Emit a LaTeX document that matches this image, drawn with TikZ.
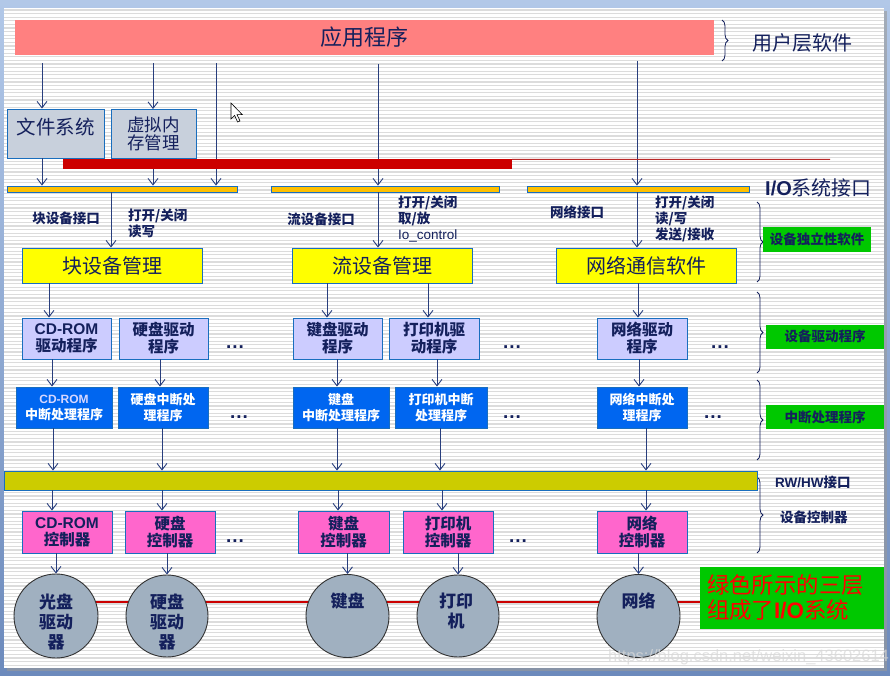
\documentclass[tikz,border=0pt]{standalone}
\usepackage{fontspec}
\setmainfont{Noto Sans CJK SC}
\newfontfamily\lat{Liberation Sans}
\usetikzlibrary{arrows.meta,decorations.pathreplacing,calc}
\definecolor{navy}{RGB}{20,32,92}
\definecolor{arrc}{RGB}{40,62,125}
\definecolor{bord}{RGB}{25,110,190}
\definecolor{winA}{RGB}{178,200,232}
\definecolor{winB}{RGB}{108,138,188}
\definecolor{stripe}{RGB}{220,220,220}
\definecolor{appc}{RGB}{255,128,128}
\definecolor{redc}{RGB}{204,0,0}
\definecolor{thinred}{RGB}{185,40,40}
\definecolor{orng}{RGB}{255,192,0}
\definecolor{yel}{RGB}{255,255,0}
\definecolor{lav}{RGB}{204,204,255}
\definecolor{lavtxt}{RGB}{215,215,255}
\definecolor{intb}{RGB}{0,102,240}
\definecolor{olive}{RGB}{204,204,0}
\definecolor{pinkc}{RGB}{255,102,204}
\definecolor{circc}{RGB}{160,176,192}
\definecolor{grn}{RGB}{0,200,0}
\definecolor{gboxc}{RGB}{200,208,220}
\pgfdeclarelayer{bg}
\pgfsetlayers{bg,main}
\begin{document}
\begin{tikzpicture}[x=1pt,y=-1pt,
  bx/.style={draw=bord, line width=0.9pt, inner sep=0pt, text=navy},
  sz/.style 2 args={minimum width=#1pt, minimum height=#2pt},
  arr/.style={draw=arrc, line width=0.9pt, -{Straight Barb[length=6.5pt,width=10pt,line width=0.9pt]}},
  brc/.style={draw=navy, line width=0.8pt, decorate, decoration={brace, amplitude=6pt, aspect=0.5}},
  lab/.style={text=navy, font=\fontsize{13.5}{16}\selectfont\bfseries, inner sep=0pt, align=left},
  dotsn/.style={text=navy, font=\lat\bfseries\fontsize{19}{19}\selectfont, inner sep=0pt},
  glab/.style={fill=grn, text=navy, inner sep=0pt, font=\fontsize{13.5}{16}\selectfont\bfseries},
  drv/.style={bx, fill=lav, sz={89}{41}, align=center, font=\fontsize{15.5}{17}\selectfont\bfseries},
  intr/.style={bx, fill=intb, text=white, sz={90}{41}, align=center, font=\fontsize{13}{16}\selectfont\bfseries},
  ctl/.style={bx, fill=pinkc, sz={90}{42}, align=center, font=\fontsize{15.5}{17}\selectfont\bfseries},
  ylw/.style={bx, fill=yel, sz={180}{35}, font=\fontsize{20}{22}\selectfont},
  orb/.style={bx, fill=orng, line width=0.8pt, minimum height=6pt},
  circ/.style={circle, draw=black!80, line width=0.9pt, fill=circc, inner sep=0pt, minimum size=84pt},
  ctxt/.style={text=navy, align=center, inner sep=0pt, font=\fontsize{17}{20}\selectfont\bfseries},
]
\useasboundingbox (0,0) rectangle (890,676);
% ---------- background (window + striped slide)
\begin{pgfonlayer}{bg}
\shade[top color=winA, bottom color=winB] (0,0) rectangle (890,676);
\fill[black!40, opacity=0.6] (7,11) rectangle (887,671);
\fill[white] (4,8) rectangle (884,668);
\foreach \yy in {10,13.6,...,666} \draw[stripe, line width=1.1pt] (4,\yy) -- (884,\yy);
\end{pgfonlayer}

% ---------- user layer
\node[fill=appc, inner sep=0pt, sz={699}{35}, text=navy, font=\fontsize{22}{24}\selectfont] (app) at (364.5,37.5) {应用程序};
\coordinate (b1t) at (722,20); \coordinate (b1b) at (722,61);
\draw[brc] (b1t) -- (b1b);
\node[anchor=west, text=navy, inner sep=0pt, font=\fontsize{20}{22}\selectfont] (ul) at (752,43) {用户层软件};

\node[bx, fill=gboxc, sz={97}{49}] (fs) at (55.5,133.5) {};
\node[text=navy, inner sep=0pt, font=\fontsize{19.5}{22}\selectfont] (fst) at (55.5,127) {文件系统};
\node[bx, fill=gboxc, sz={85}{49}, align=center, font=\fontsize{17.5}{18.5}\selectfont] (vm) at (153.5,134) {虚拟内\\存管理};

% ---------- I/O system interface bars
\node[orb, minimum width=230pt] (bar1) at (122,189) {};
\node[orb, minimum width=228pt] (bar2) at (385,189) {};
\node[orb, minimum width=222pt] (bar3) at (638,189) {};
\node[anchor=west, text=navy, inner sep=0pt, font=\fontsize{20}{22}\selectfont] (io) at (765,188) {{\lat\bfseries I/O}系统接口};

% arrows from application
\draw[arr, shorten <=8pt] (app.south -| 42,0) -- (fs.north -| 42,0);
\draw[arr, shorten <=8pt] (app.south -| 153,0) -- (vm.north -| 153,0);
\draw[arr, shorten <=8pt] (app.south -| 216,0) -- (bar1.north -| 216,0);
\draw[arr, shorten <=9pt] (app.south -| 378,0) -- (bar2.north -| 378,0);
\draw[arr, shorten <=6pt] (app.south -| 637,0) -- (bar3.north -| 637,0);
\draw[arr] (fs.south -| 42,0) -- (bar1.north -| 42,0);
\draw[arr] (vm.south -| 153,0) -- (bar1.north -| 153,0);

% red bar + thin line
\node[fill=redc, inner sep=0pt, sz={449}{10}] (rbar) at (287.5,164) {};
\coordinate (rlend) at (830,159.5);
\draw[thinred, line width=1pt] ([yshift=-0.5pt]rbar.north east) -- (rlend);

% ---------- interface labels
\node[lab] (l1) at (66,218) {块设备接口};
\node[lab, anchor=north west] (l2) at (128,209) {打开/关闭\\读写};
\node[lab] (l3) at (321,219) {流设备接口};
\node[lab, anchor=north west] (l4) at (398,196) {打开/关闭\\取/放\\{\lat\mdseries Io\_control}};
\node[lab] (l5) at (577,212) {网络接口};
\node[lab, anchor=north west] (l6) at (655,196) {打开/关闭\\读/写\\发送/接收};

% ---------- device independent software
\node[ylw] (blk) at (112,265.5) {块设备管理};
\node[ylw] (str) at (382,265.5) {流设备管理};
\node[ylw] (net) at (646,265.5) {网络通信软件};
\draw[arr] (bar1.south -| 111,0) -- (blk.north -| 111,0);
\draw[arr] (bar2.south -| 378,0) -- (str.north -| 378,0);
\draw[arr] (bar3.south -| 637,0) -- (net.north -| 637,0);

% ---------- drivers
\node[drv] (d1) at (66.5,338.5) {{\lat CD-ROM}\\驱动程序};
\node[drv] (d2) at (163.5,338.5) {硬盘驱动\\程序};
\node[drv] (d3) at (337.5,338.5) {键盘驱动\\程序};
\node[drv, minimum width=90pt] (d4) at (434,338.5) {打印机驱\\动程序};
\node[drv, minimum width=90pt] (d5) at (642,338.5) {网络驱动\\程序};
\node[dotsn] (e1) at (235,347) {.\hspace{1pt}.\hspace{1pt}.};
\node[dotsn] (e2) at (512,347) {.\hspace{1pt}.\hspace{1pt}.};
\node[dotsn] (e3) at (720,347) {.\hspace{1pt}.\hspace{1pt}.};
\draw[arr] (blk.south -| 49,0) -- (d1.north -| 49,0);
\draw[arr] (str.south -| 327,0) -- (d3.north -| 327,0);
\draw[arr] (str.south -| 428,0) -- (d4.north -| 428,0);
\draw[arr] (net.south -| 638,0) -- (d5.north -| 638,0);

% ---------- interrupt handlers
\node[intr, minimum width=96pt] (i1) at (64,407.5) {{\lat\fontsize{12}{16}\selectfont\color{lavtxt}CD-ROM}\\中断处理程序};
\node[intr] (i2) at (163,407.5) {硬盘中断处\\理程序};
\node[intr, minimum width=96pt] (i3) at (341,407.5) {键盘\\中断处理程序};
\node[intr, minimum width=92pt] (i4) at (441,407.5) {打印机中断\\处理程序};
\node[intr] (i5) at (642,407.5) {网络中断处\\理程序};
\node[dotsn] (e4) at (239,417) {.\hspace{1pt}.\hspace{1pt}.};
\node[dotsn] (e5) at (512,417) {.\hspace{1pt}.\hspace{1pt}.};
\node[dotsn] (e6) at (713,417) {.\hspace{1pt}.\hspace{1pt}.};
\draw[arr] (d1.south -| 52,0) -- (i1.north -| 52,0);
\draw[arr] (d2.south -| 160,0) -- (i2.north -| 160,0);
\draw[arr] (d3.south -| 337,0) -- (i3.north -| 337,0);
\draw[arr] (d4.south -| 437,0) -- (i4.north -| 437,0);
\draw[arr] (d5.south -| 639,0) -- (i5.north -| 639,0);

% ---------- right-side braces and labels
\coordinate (b2t) at (757,202); \coordinate (b2b) at (757,282);
\coordinate (b3t) at (757,292); \coordinate (b3b) at (757,373);
\coordinate (b4t) at (757,380); \coordinate (b4b) at (757,460);
\coordinate (b5t) at (757,477); \coordinate (b5b) at (757,553);
\draw[brc] (b2t) -- (b2b);
\draw[brc] (b3t) -- (b3b);
\draw[brc] (b4t) -- (b4b);
\draw[brc] (b5t) -- (b5b);
\node[glab, sz={108}{25}] (g1) at (817,239.5) {设备独立性软件};
\node[glab, sz={118}{24}] (g2) at (825,336.5) {设备驱动程序};
\node[glab, sz={118}{24}] (g3) at (825,417) {中断处理程序};
\node[lab, anchor=west] (rw) at (775,482) {{\lat RW/HW}接口};
\node[lab, anchor=west] (dc) at (780,517) {设备控制器};

% ---------- RW/HW bus
\node[bx, fill=olive, sz={753}{19}] (rwb) at (380.5,480.5) {};
\draw[arr] (i1.south -| 53,0) -- (rwb.north -| 53,0);
\draw[arr] (i2.south -| 162,0) -- (rwb.north -| 162,0);
\draw[arr] (i3.south -| 337,0) -- (rwb.north -| 337,0);
\draw[arr] (i4.south -| 440,0) -- (rwb.north -| 440,0);
\draw[arr] (i5.south -| 646,0) -- (rwb.north -| 646,0);

% ---------- controllers
\node[ctl] (c1) at (67,532) {{\lat CD-ROM}\\控制器};
\node[ctl] (c2) at (170,532) {硬盘\\控制器};
\node[ctl, minimum width=91pt] (c3) at (343.5,532) {键盘\\控制器};
\node[ctl] (c4) at (448,532) {打印机\\控制器};
\node[ctl] (c5) at (642,532) {网络\\控制器};
\node[dotsn] (e7) at (235,541) {.\hspace{1pt}.\hspace{1pt}.};
\node[dotsn] (e8) at (518,541) {.\hspace{1pt}.\hspace{1pt}.};
\draw[arr] (rwb.south -| 52,0) -- (c1.north -| 52,0);
\draw[arr] (rwb.south -| 162,0) -- (c2.north -| 162,0);
\draw[arr] (rwb.south -| 338,0) -- (c3.north -| 338,0);
\draw[arr] (rwb.south -| 442,0) -- (c4.north -| 442,0);
\draw[arr] (rwb.south -| 646,0) -- (c5.north -| 646,0);

% ---------- devices
\node[circ] (o1) at (56,616) {};
\node[circ, minimum size=82pt] (o2) at (167,616) {};
\node[circ, minimum size=83pt] (o3) at (347.5,616) {};
\node[circ, minimum size=82pt] (o4) at (458,616) {};
\node[circ, minimum size=83pt] (o5) at (638.5,616) {};
\node[ctxt] (o1t) at (56,622) {光盘\\驱动\\器};
\node[ctxt] (o2t) at (167,622) {硬盘\\驱动\\器};
\node[ctxt] (o3t) at (347.5,601) {键盘};
\node[ctxt] (o4t) at (456,611) {打印\\机};
\node[ctxt] (o5t) at (638.5,601) {网络};
\draw[arr] (c1.south -| o1) -- (o1.north);
\draw[arr] (c2.south -| o2) -- (o2.north);
\draw[arr] (c3.south -| o3) -- (o3.north);
\draw[arr] (c4.south -| o4) -- (o4.north);
\draw[arr] (c5.south -| o5) -- (o5.north);

\node[fill=grn, inner sep=0pt, sz={184}{62}, align=left, text width=170pt, text=red, font=\fontsize{22.4}{25}\selectfont] (g4) at (792,598) {绿色所示的三层\\组成了{\lat\bfseries I/O}系统};

\begin{pgfonlayer}{bg}
\draw[redc, line width=1.1pt] (o1.center |- 0,602) -- (g4.west |- 0,602);
\end{pgfonlayer}

% ---------- screenshot artefacts
\draw[fill=white, draw=black, line width=0.6pt] (231,103) -- ++(0,16) -- ++(3.6,-3.6) -- ++(3,6.6) -- ++(2.4,-1) -- ++(-3,-6.4) -- ++(5.2,0) -- cycle;
\node[anchor=west, inner sep=0pt, text=white!70!gray, opacity=0.75, font=\lat\fontsize{16.5}{18}\selectfont] (wm) at (608,657) {https://blog.csdn.net/weixin\_43602614};
\end{tikzpicture}
\end{document}
